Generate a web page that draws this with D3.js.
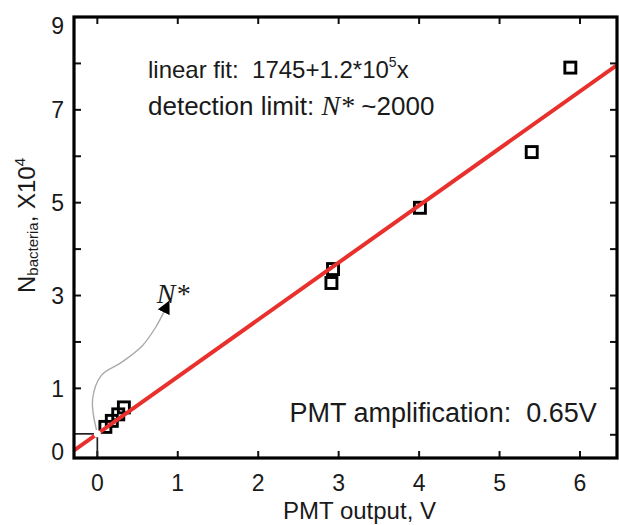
<!DOCTYPE html>
<html>
<head>
<meta charset="utf-8">
<script src="https://cdn.jsdelivr.net/npm/d3@7"></script>
<style>
  body { margin: 0; background: #fff; }
  text { font-family: "Liberation Sans", Arial, sans-serif; fill: #1a1a1a; white-space: pre; }
  .serif { font-family: "Liberation Serif", "Times New Roman", serif; font-style: italic; }
</style>
</head>
<body>
<svg id="chart" width="619" height="525"></svg>
<script>
// measured points (PMT output in V, bacteria count in 1e4)
const pmtOutput = [0.10, 0.18, 0.26, 0.33, 2.91, 2.93, 4.01, 5.40, 5.88];
const nBacteria = [0.17, 0.30, 0.44, 0.59, 3.27, 3.57, 4.89, 6.09, 7.91];

// red fit line, in plot units
const fitIntercept = 0.02;
const fitSlope = 1.23;

const xTicks = [0, 1, 2, 3, 4, 5, 6];
const yTicks = [1, 2, 3, 4, 5, 6, 7, 8];
const yLabels = [1, 3, 5, 7, 9];

// detection limit N* and the curved arrow pointing to its label
const nStar = { x: 0, y: 0.02 };
const arrowPath = [[-0.01, 0.1], [-0.06, 0.75], [0.05, 1.28], [0.3, 1.56], [0.56, 1.92], [0.73, 2.33], [0.84, 2.69]];

var margin = { top: 17, right: 2, bottom: 67, left: 74 };
const svgEl = d3.select("#chart");
var width = 619 - margin.left - margin.right;
var height = 525 - margin.top - margin.bottom;

const svg = svgEl.append("g")
  .attr("transform", `translate(${margin.left},${margin.top})`);

const x = d3.scaleLinear().domain([-0.29, 6.46]).range([0, width]);
const y = d3.scaleLinear().domain([-0.5, 9]).range([height, 0]);

svg.append("clipPath").attr("id", "clip")
  .append("rect").attr("width", width).attr("height", height);

// ticks pointing inward on all four sides
const tickLen = 7;
svg.selectAll(".xtickB").data(xTicks).enter().append("line")
  .attr("x1", d => x(d)).attr("x2", d => x(d))
  .attr("y1", height).attr("y2", height - tickLen)
  .attr("stroke", "#111").attr("stroke-width", 2);
svg.selectAll(".xtickT").data(xTicks).enter().append("line")
  .attr("x1", d => x(d)).attr("x2", d => x(d))
  .attr("y1", 0).attr("y2", tickLen)
  .attr("stroke", "#111").attr("stroke-width", 2);
svg.selectAll(".ytickL").data(yTicks).enter().append("line")
  .attr("x1", 0).attr("x2", tickLen)
  .attr("y1", d => y(d)).attr("y2", d => y(d))
  .attr("stroke", "#111").attr("stroke-width", 2);
svg.selectAll(".ytickR").data([0].concat(yTicks)).enter().append("line")
  .attr("x1", width).attr("x2", width - tickLen)
  .attr("y1", d => y(d)).attr("y2", d => y(d))
  .attr("stroke", "#111").attr("stroke-width", 2);

// tick labels
svg.selectAll(".xlab").data(xTicks).enter().append("text")
  .attr("x", d => x(d)).attr("y", height + 33)
  .attr("text-anchor", "middle")
  .style("font-size", "23px")
  .text(d => d);
svg.selectAll(".ylab").data(yLabels).enter().append("text")
  .attr("x", -10).attr("y", d => y(d))
  .attr("dy", d => d === 9 ? "0.72em" : "0.36em")
  .attr("text-anchor", "end")
  .style("font-size", "23px")
  .text(d => d);
svg.append("text")
  .attr("x", -10).attr("y", height + 2)
  .attr("text-anchor", "end")
  .style("font-size", "23px")
  .text("0");

// axis titles
svg.append("text")
  .attr("x", width / 2 + 14).attr("y", height + 61)
  .attr("text-anchor", "middle")
  .style("font-size", "24px")
  .text("PMT output, V");

const ytitle = svg.append("text")
  .attr("transform", `translate(${-39},${height / 2 - 12}) rotate(-90)`)
  .attr("text-anchor", "middle")
  .style("font-size", "24px");
ytitle.append("tspan").text("N");
ytitle.append("tspan").attr("dy", 3).style("font-size", "15px").text("bacteria");
ytitle.append("tspan").attr("dy", -3).text(", X10");
ytitle.append("tspan").attr("dy", -10).style("font-size", "15px").text("4");

// detection limit guides
svg.append("line")
  .attr("x1", 0).attr("x2", x(nStar.x))
  .attr("y1", y(nStar.y)).attr("y2", y(nStar.y))
  .attr("stroke", "#222").attr("stroke-width", 1.7);
svg.append("line")
  .attr("x1", x(nStar.x)).attr("x2", x(nStar.x))
  .attr("y1", height).attr("y2", y(nStar.y))
  .attr("stroke", "#222").attr("stroke-width", 1.7);

// curved arrow to the N* label
svgEl.append("defs").append("marker")
  .attr("id", "arrow")
  .attr("viewBox", "0 0 10 10")
  .attr("refX", 2).attr("refY", 5)
  .attr("markerWidth", 13).attr("markerHeight", 13)
  .attr("markerUnits", "userSpaceOnUse")
  .attr("orient", "auto")
  .append("path").attr("d", "M0,0 L10,5 L0,10 Z").attr("fill", "#000");

svg.append("path")
  .attr("d", d3.line().x(d => x(d[0])).y(d => y(d[1])).curve(d3.curveCatmullRom)(arrowPath))
  .attr("fill", "none")
  .attr("stroke", "#aaa")
  .attr("stroke-width", 1.4)
  .attr("marker-end", "url(#arrow)");

svg.append("text")
  .attr("class", "serif")
  .attr("x", x(0.74)).attr("y", y(2.84))
  .style("font-size", "28px")
  .text("N*");

// data squares
const pts = pmtOutput.map((v, i) => ({ v: v, n: nBacteria[i] }));
const sq = 11;
svg.selectAll(".pt").data(pts).enter().append("rect")
  .attr("x", d => x(d.v) - sq / 2)
  .attr("y", d => y(d.n) - sq / 2)
  .attr("width", sq).attr("height", sq)
  .attr("fill", "none")
  .attr("stroke", "#000")
  .attr("stroke-width", 2.9);

// linear fit
const xd = x.domain();
svg.append("path")
  .attr("clip-path", "url(#clip)")
  .attr("d", d3.line().x(d => x(d)).y(d => y(fitIntercept + fitSlope * d))(xd))
  .attr("stroke", "#e8302c")
  .attr("stroke-width", 4)
  .attr("fill", "none");

svg.append("circle")
  .attr("cx", x(nStar.x)).attr("cy", y(nStar.y))
  .attr("r", 3.5)
  .attr("fill", "#fff");

// frame
svg.append("rect")
  .attr("width", width).attr("height", height)
  .attr("fill", "none")
  .attr("stroke", "#000")
  .attr("stroke-width", 3.2);

// annotations
const t1 = svg.append("text")
  .attr("x", x(0.63)).attr("y", y(7.69))
  .style("font-size", "24px");
t1.append("tspan").text("linear fit:  1745+1.2*10");
t1.append("tspan").attr("dy", -11).style("font-size", "14px").text("5");
t1.append("tspan").attr("dy", 11).text("x");

const t2 = svg.append("text")
  .attr("x", x(0.63)).attr("y", y(6.89))
  .style("font-size", "26px");
t2.append("tspan").text("detection limit: ");
t2.append("tspan").attr("class", "serif").style("font-size", "28px").text("N*");
t2.append("tspan").text(" ~2000");

svg.append("text")
  .attr("x", x(2.39)).attr("y", y(0.28))
  .style("font-size", "27px")
  .text("PMT amplification:  0.65V");
</script>
</body>
</html>
